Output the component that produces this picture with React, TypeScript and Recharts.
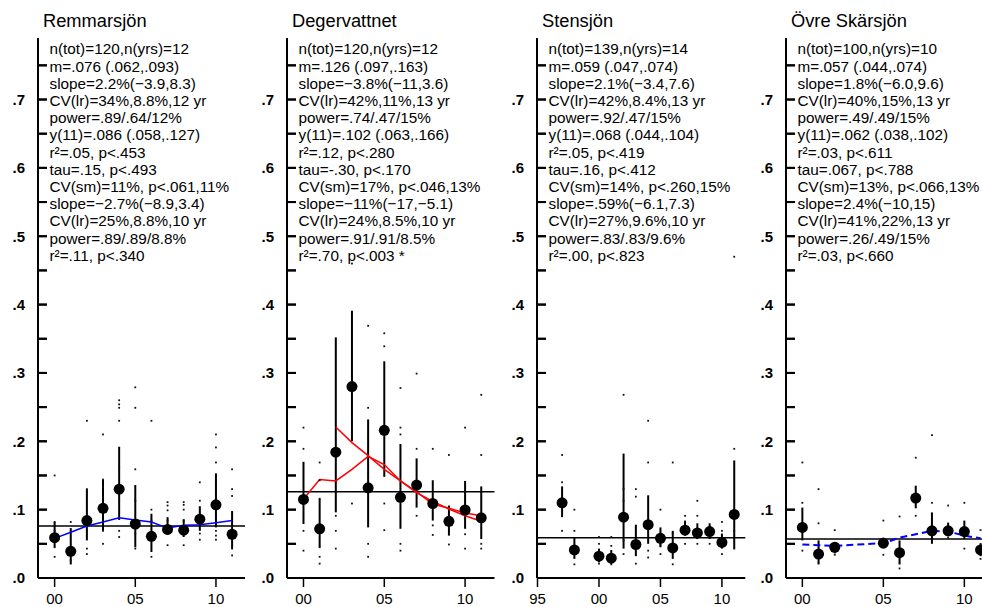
import React from 'react';
import { ComposedChart, Scatter, Line, XAxis, YAxis, ReferenceLine, ErrorBar } from 'recharts';

const FONT = '"Liberation Sans", Arial, Helvetica, sans-serif';

// ---------- Remmarsjön ----------
const remYears = [2000, 2001, 2002, 2003, 2004, 2005, 2006, 2007, 2008, 2009, 2010, 2011];
const remMeans = [0.059, 0.039, 0.084, 0.102, 0.130, 0.079, 0.061, 0.071, 0.070, 0.086, 0.107, 0.064];
const remLows = [0.045, 0.021, 0.055, 0.069, 0.085, 0.045, 0.038, 0.065, 0.060, 0.069, 0.074, 0.043];
const remHighs = [0.082, 0.073, 0.130, 0.144, 0.192, 0.136, 0.094, 0.089, 0.086, 0.105, 0.152, 0.098];
const remDots = [
  [0.150, 0.082, 0.069, 0.045, 0.031],
  [0.082, 0.035, 0.026, 0.021],
  [0.230, 0.130, 0.123, 0.108, 0.094, 0.065, 0.043, 0.035],
  [0.210, 0.144, 0.133, 0.118, 0.103, 0.084, 0.069, 0.050],
  [0.260, 0.254, 0.249, 0.230, 0.162, 0.113, 0.069, 0.060],
  [0.279, 0.249, 0.159, 0.113, 0.065, 0.043],
  [0.230, 0.100, 0.084, 0.055, 0.031],
  [0.111, 0.106, 0.099, 0.084, 0.065, 0.048],
  [0.111, 0.107, 0.100, 0.084, 0.065, 0.048],
  [0.140, 0.113, 0.094, 0.065, 0.056],
  [0.210, 0.191, 0.169, 0.152, 0.069, 0.062, 0.056],
  [0.159, 0.130, 0.120, 0.043, 0.033],
];
const remSmooth = [0.058, 0.067, 0.076, 0.082, 0.088, 0.085, 0.082, 0.073, 0.077, 0.078, 0.081, 0.084];
const remMeanLine = 0.076;
const remStats = [
  'n(tot)=120,n(yrs)=12', 'm=.076 (.062,.093)', 'slope=2.2%(\u22123.9,8.3)', 'CV(lr)=34%,8.8%,12 yr',
  'power=.89/.64/12%', 'y(11)=.086 (.058,.127)', 'r\u00b2=.05, p<.453', 'tau=.15, p<.493',
  'CV(sm)=11%, p<.061,11%', 'slope=\u22122.7%(\u22128.9,3.4)', 'CV(lr)=25%,8.8%,10 yr', 'power=.89/.89/8.8%',
  'r\u00b2=.11, p<.340',
];

// ---------- Degervattnet ----------
const degYears = [2000, 2001, 2002, 2003, 2004, 2005, 2006, 2007, 2008, 2009, 2010, 2011];
const degMeans = [0.115, 0.072, 0.184, 0.280, 0.132, 0.216, 0.118, 0.136, 0.109, 0.083, 0.0995, 0.088];
const degLows = [0.079, 0.045, 0.096, 0.200, 0.074, 0.148, 0.072, 0.103, 0.084, 0.062, 0.072, 0.057];
const degHighs = [0.170, 0.116, 0.352, 0.391, 0.232, 0.317, 0.196, 0.175, 0.143, 0.106, 0.142, 0.134];
const degDots = [
  [0.220, 0.189, 0.069, 0.040],
  [0.169, 0.143, 0.116, 0.045, 0.031, 0.021],
  [0.091, 0.069, 0.043],
  [0.460, 0.109],
  [0.369, 0.249, 0.050, 0.031],
  [0.358, 0.339, 0.109, 0.070],
  [0.278, 0.220, 0.210, 0.050, 0.040],
  [0.299, 0.189, 0.091],
  [0.189, 0.077, 0.063],
  [0.180, 0.049],
  [0.220, 0.064, 0.043],
  [0.268, 0.180, 0.050, 0.043],
];
const degSmooth = [0.1155, 0.144, 0.142, 0.159, 0.178, 0.166, 0.142, 0.126, 0.108, 0.102, 0.095, 0.091];
const degRegYears = [2002, 2003, 2004, 2005, 2006, 2007, 2008, 2009, 2010, 2011];
const degReg = [0.221, 0.198, 0.179, 0.159, 0.142, 0.125, 0.112, 0.101, 0.091, 0.083];
const degMeanLine = 0.126;
const degStats = [
  'n(tot)=120,n(yrs)=12', 'm=.126 (.097,.163)', 'slope=\u22123.8%(\u221211,3.6)', 'CV(lr)=42%,11%,13 yr',
  'power=.74/.47/15%', 'y(11)=.102 (.063,.166)', 'r\u00b2=.12, p<.280', 'tau=-.30, p<.170',
  'CV(sm)=17%, p<.046,13%', 'slope=\u221211%(\u221217,\u22125.1)', 'CV(lr)=24%,8.5%,10 yr', 'power=.91/.91/8.5%',
  'r\u00b2=.70, p<.003 *',
];

// ---------- Stensjön ----------
const stenYears = [1997, 1998, 2000, 2001, 2002, 2003, 2004, 2005, 2006, 2007, 2008, 2009, 2010, 2011];
const stenMeans = [0.110, 0.041, 0.032, 0.029, 0.089, 0.049, 0.078, 0.058, 0.044, 0.070, 0.066, 0.068, 0.052, 0.093];
const stenLows = [0.089, 0.028, 0.023, 0.021, 0.043, 0.032, 0.050, 0.045, 0.028, 0.062, 0.057, 0.057, 0.043, 0.043];
const stenHighs = [0.134, 0.059, 0.043, 0.041, 0.182, 0.078, 0.121, 0.074, 0.069, 0.084, 0.080, 0.080, 0.065, 0.172];
const stenDots = [
  [0.180, 0.140, 0.069],
  [0.100, 0.069, 0.020],
  [0.060, 0.050, 0.021],
  [0.060, 0.047, 0.020],
  [0.268, 0.130, 0.113, 0.055, 0.035],
  [0.130, 0.119, 0.074, 0.021],
  [0.230, 0.169, 0.040, 0.030],
  [0.100, 0.065, 0.048, 0.035],
  [0.169, 0.065, 0.020],
  [0.091, 0.082, 0.050],
  [0.113, 0.091, 0.050],
  [0.075, 0.050],
  [0.082, 0.069, 0.035],
  [0.470, 0.189, 0.069, 0.043],
];
const stenMeanLine = 0.059;
const stenStats = [
  'n(tot)=139,n(yrs)=14', 'm=.059 (.047,.074)', 'slope=2.1%(\u22123.4,7.6)', 'CV(lr)=42%,8.4%,13 yr',
  'power=.92/.47/15%', 'y(11)=.068 (.044,.104)', 'r\u00b2=.05, p<.419', 'tau=.16, p<.412',
  'CV(sm)=14%, p<.260,15%', 'slope=.59%(\u22126.1,7.3)', 'CV(lr)=27%,9.6%,10 yr', 'power=.83/.83/9.6%',
  'r\u00b2=.00, p<.823',
];

// ---------- Övre Skärsjön ----------
const ovreYears = [2000, 2001, 2002, 2005, 2006, 2007, 2008, 2009, 2010, 2011];
const ovreMeans = [0.074, 0.035, 0.045, 0.051, 0.037, 0.117, 0.069, 0.069, 0.068, 0.041];
const ovreLows = [0.055, 0.021, 0.036, 0.045, 0.021, 0.102, 0.050, 0.061, 0.057, 0.032];
const ovreHighs = [0.103, 0.055, 0.052, 0.059, 0.055, 0.135, 0.096, 0.081, 0.084, 0.051];
const ovreDots = [
  [0.169, 0.110, 0.040],
  [0.130, 0.080, 0.021],
  [0.070, 0.034],
  [0.084, 0.034],
  [0.090, 0.021, 0.014],
  [0.176, 0.091],
  [0.209, 0.110],
  [0.106, 0.059],
  [0.110, 0.043],
  [0.070, 0.028],
];
const ovreSmooth = [0.049, 0.048, 0.047, 0.051, 0.059, 0.064, 0.069, 0.068, 0.062, 0.058];
const ovreMeanLine = 0.057;
const ovreStats = [
  'n(tot)=100,n(yrs)=10', 'm=.057 (.044,.074)', 'slope=1.8%(\u22126.0,9.6)', 'CV(lr)=40%,15%,13 yr',
  'power=.49/.49/15%', 'y(11)=.062 (.038,.102)', 'r\u00b2=.03, p<.611', 'tau=.067, p<.788',
  'CV(sm)=13%, p<.066,13%', 'slope=2.4%(\u221210,15)', 'CV(lr)=41%,22%,13 yr', 'power=.26/.49/15%',
  'r\u00b2=.03, p<.660',
];

const yTicks = [0, 0.05, 0.1, 0.15, 0.2, 0.25, 0.3, 0.35, 0.4, 0.45, 0.5, 0.55, 0.6, 0.65, 0.7, 0.75];
const xTicksA = [2000, 2005, 2010];
const xTicksB = [1995, 2000, 2005, 2010];

const PANEL_W = 249;
const AXIS_OFF = 38;
const Y_TICK_LEN = 9;

// tick label (the tick line is drawn inward by Recharts through a negative tickSize)
const YTickLabel = (props: any) => {
  const { x, y, payload } = props;
  const v = payload.value;
  const major = Math.abs(v * 10 - Math.round(v * 10)) < 1e-6;
  if (!major) return <g />;
  return (
    <text x={x - Y_TICK_LEN - 13} y={y} dy="0.36em" textAnchor="end" fontSize={15} fontWeight="bold" fontFamily={FONT} fill="#000">
      {'.' + Math.round(v * 10)}
    </text>
  );
};

const DotShape = (p: any) => <rect x={p.cx - 0.9} y={p.cy - 0.9} width={1.8} height={1.8} fill="#111" />;
const MeanShape = (p: any) => <circle cx={p.cx} cy={p.cy} r={5.5} fill="#000" />;
const TickMarkShape = (p: any) => <rect x={p.cx} y={p.cy - 1} width={Y_TICK_LEN} height={2} fill="#000" />;

type Trend = { years: number[]; values: number[]; color: string; dash?: string; width: number };

function Panel(props: {
  left: number; title: string; stats: string[]; years: number[]; means: number[]; lows: number[]; highs: number[];
  dots: number[][]; trends: Trend[]; meanLine: number; domain: [number, number]; xTicks: number[]; plotWidth: number;
}) {
  const { left, title, stats, years, means, lows, highs, dots, trends, meanLine, domain, xTicks, plotWidth } = props;
  const meanData = years.map((x, i) => ({ x, y: means[i], err: [means[i] - lows[i], highs[i] - means[i]] }));
  const dotData = dots.flatMap((vals, i) => vals.map((v) => ({ x: years[i], y: v })));
  const tickData = yTicks.slice(1).map((v) => ({ x: domain[0], y: v }));
  return (
    <div style={{ position: 'absolute', left, top: 0, width: PANEL_W, height: 607 }}>
      <svg width={PANEL_W} height={607} style={{ position: 'absolute', left: 0, top: 0 }}>
        <text x={AXIS_OFF + 5} y={27} fontSize={18.3} fontFamily={FONT} fill="#000">{title}</text>
        {stats.map((s, i) => (
          <text key={i} x={AXIS_OFF + 11.5} y={54.3 + i * 17.2} fontSize={15.3} fontFamily={FONT} fill="#000">{s}</text>
        ))}
      </svg>
      <div style={{ position: 'absolute', left: 0, top: 0 }}>
        <ComposedChart width={PANEL_W} height={607} margin={{ top: 38, right: PANEL_W - AXIS_OFF - plotWidth, bottom: 0, left: 0 }}>
          <XAxis
            type="number" dataKey="x" domain={domain} allowDataOverflow ticks={xTicks} interval={0}
            tickFormatter={(v: number) => String(v % 100).padStart(2, '0')}
            height={29} tickSize={9} tickMargin={6}
            axisLine={{ stroke: '#000', strokeWidth: 2 }} tickLine={{ stroke: '#000', strokeWidth: 1.5 }}
            tick={{ fill: '#000', fontSize: 15, fontFamily: FONT }}
          />
          <YAxis
            type="number" dataKey="y" domain={[0, 0.79]} allowDataOverflow ticks={yTicks} interval={0}
            width={AXIS_OFF} tickSize={-Y_TICK_LEN} tickMargin={0}
            tickLine={{ stroke: '#000', strokeWidth: 2 }}
            axisLine={{ stroke: '#000', strokeWidth: 2 }} tick={(p: any) => <YTickLabel {...p} />}
          />
          <Scatter data={dotData} shape={DotShape} isAnimationActive={false} />
          <Scatter data={meanData} shape={MeanShape} isAnimationActive={false}>
            <ErrorBar dataKey="err" direction="y" width={0} stroke="#000" strokeWidth={2} isAnimationActive={false} />
          </Scatter>
          <ReferenceLine y={meanLine} stroke="#000" strokeWidth={1.5} />
          {trends.map((t, k) => (
            <Line
              key={k} data={t.years.map((x, i) => ({ x, y: t.values[i] }))} dataKey="y" type="linear"
              stroke={t.color} strokeWidth={t.width} strokeDasharray={t.dash} dot={false} isAnimationActive={false}
            />
          ))}
          <Scatter data={tickData} shape={TickMarkShape} isAnimationActive={false} />
        </ComposedChart>
      </div>
    </div>
  );
}

export default function App() {
  return (
    <div style={{ position: 'absolute', left: 0, top: 0, width: 982, height: 607, overflow: 'hidden', background: '#fff' }}>
      <Panel
        left={0} title="Remmarsjön" stats={remStats} years={remYears} means={remMeans} lows={remLows} highs={remHighs}
        dots={remDots} meanLine={remMeanLine} domain={[1998.97, 2011.8]} xTicks={xTicksA} plotWidth={207}
        trends={[{ years: remYears, values: remSmooth, color: '#0000ff', width: 1.5 }]}
      />
      <Panel
        left={249.3} title="Degervattnet" stats={degStats} years={degYears} means={degMeans} lows={degLows} highs={degHighs}
        dots={degDots} meanLine={degMeanLine} domain={[1998.98, 2011.82]} xTicks={xTicksA} plotWidth={207.5}
        trends={[
          { years: degYears, values: degSmooth, color: '#ff0000', width: 1.5 },
          { years: degRegYears, values: degReg, color: '#ff0000', width: 1.5 },
        ]}
      />
      <Panel
        left={498.7} title="Stensjön" stats={stenStats} years={stenYears} means={stenMeans} lows={stenLows} highs={stenHighs}
        dots={stenDots} meanLine={stenMeanLine} domain={[1994.96, 2011.9]} xTicks={xTicksB} plotWidth={208.3}
        trends={[]}
      />
      <Panel
        left={747.7} title="Övre Skärsjön" stats={ovreStats} years={ovreYears} means={ovreMeans} lows={ovreLows} highs={ovreHighs}
        dots={ovreDots} meanLine={ovreMeanLine} domain={[1998.99, 2011.8]} xTicks={xTicksA} plotWidth={207.5}
        trends={[{ years: ovreYears, values: ovreSmooth, color: '#0000ff', width: 2, dash: '7 4' }]}
      />
    </div>
  );
}
